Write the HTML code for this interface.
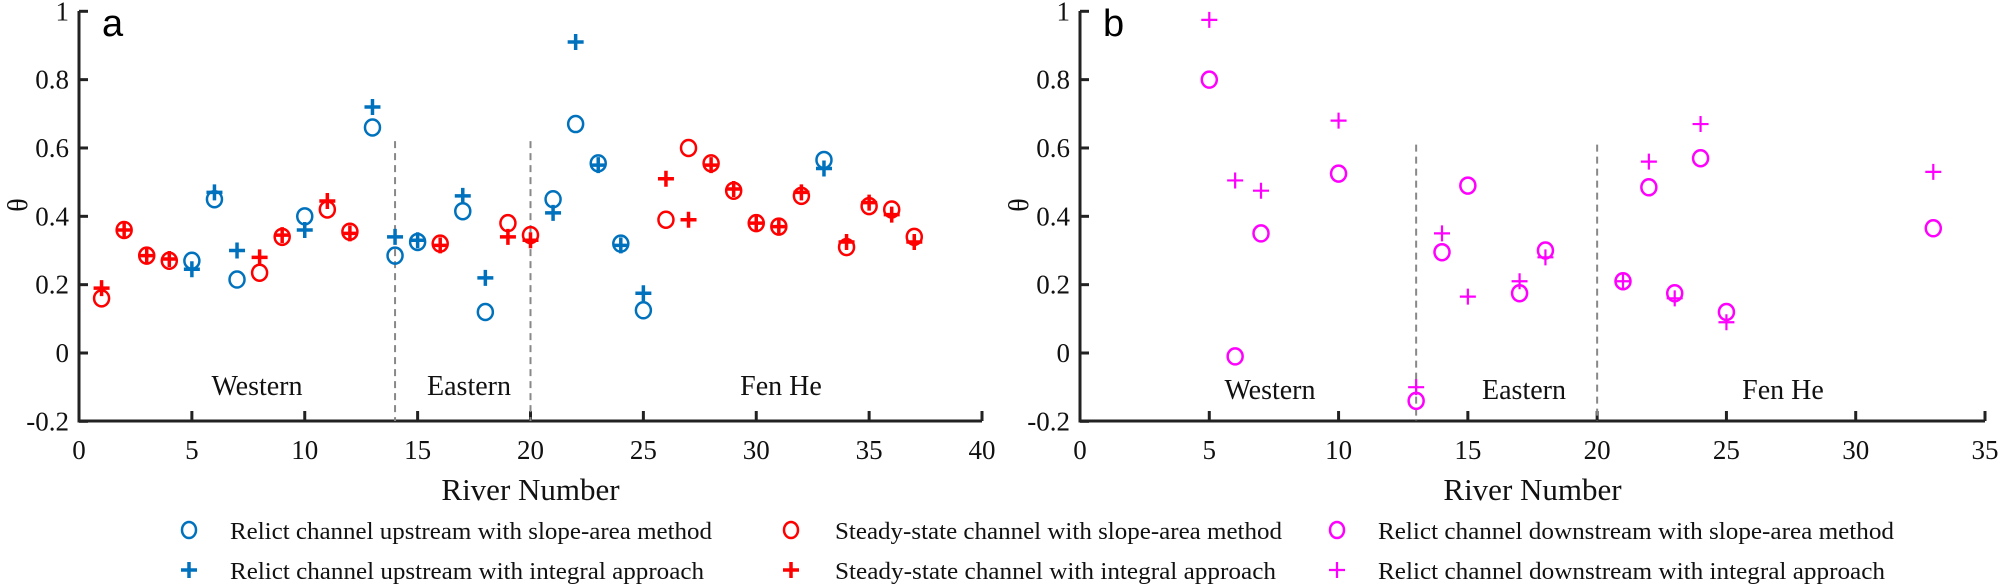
<!DOCTYPE html>
<html><head><meta charset="utf-8"><style>
html,body{margin:0;padding:0;background:#fff;}
svg{display:block;font-family:"Liberation Serif",serif;}
</style></head><body>
<svg id="chart" width="2000" height="587" viewBox="0 0 2000 587" xmlns="http://www.w3.org/2000/svg"></svg>
<script>
const aUpX=[5,6,7,10,13,14,15,17,18,21,22,23,24,25,33];
const aUpCircle=[0.27,0.45,0.215,0.40,0.66,0.285,0.325,0.415,0.12,0.45,0.67,0.555,0.32,0.125,0.565];
const aUpPlus=[0.245,0.47,0.30,0.36,0.72,0.34,0.33,0.46,0.22,0.41,0.91,0.55,0.315,0.175,0.54];
const aSsX=[1,2,3,4,8,9,11,12,16,19,20,26,27,28,29,30,31,32,34,35,36,37];
const aSsCircle=[0.16,0.36,0.285,0.27,0.235,0.34,0.42,0.355,0.32,0.38,0.345,0.39,0.60,0.555,0.475,0.38,0.37,0.46,0.31,0.43,0.42,0.34];
const aSsPlus=[0.19,0.36,0.285,0.275,0.28,0.345,0.445,0.35,0.315,0.34,0.33,0.51,0.39,0.55,0.48,0.38,0.37,0.47,0.325,0.44,0.405,0.325];
const bDnX=[5,6,7,10,13,14,15,17,18,21,22,23,24,25,33];
const bDnCircle=[0.80,-0.01,0.35,0.525,-0.14,0.295,0.49,0.175,0.30,0.21,0.485,0.175,0.57,0.12,0.365];
const bDnPlus=[0.975,0.505,0.475,0.68,-0.10,0.35,0.165,0.21,0.28,0.21,0.56,0.16,0.67,0.09,0.53];
const yTicks=[-0.2,0,0.2,0.4,0.6,0.8,1];
const yTickLabels=["-0.2","0","0.2","0.4","0.6","0.8","1"];
const aXTicks=[0,5,10,15,20,25,30,35,40];
const bXTicks=[0,5,10,15,20,25,30,35];
const aDividers=[14,20];
const bDividers=[13,20];

const NS="http://www.w3.org/2000/svg";
const svg=document.getElementById('chart');
function mk(tag,attrs,parent){const e=document.createElementNS(NS,tag);for(const k in attrs)e.setAttribute(k,attrs[k]);(parent||svg).appendChild(e);return e;}
const yScale=v=>353-v*341.7;
function panel(id,x0,x1,xmax,xticks){
  const g=mk('g',{});
  
  
  const xs=v=>x0+(x1-x0)*v/xmax;
  const ax=mk('line',{x1:x0,y1:11,x2:x0,y2:421,stroke:'#222','stroke-width':3},g);
  
  
  const bx=mk('line',{x1:x0-1.5,y1:421,x2:x1,y2:421,stroke:'#222','stroke-width':3},g);
  
  
  yTicks.forEach((v,i)=>{
    const y=yScale(v);
    mk('line',{x1:x0,y1:y,x2:x0+9,y2:y,stroke:'#222','stroke-width':3},g);
    const t=mk('text',{x:x0-10,y:y+9,'text-anchor':'end','font-size':27,fill:'#111'},g);
    t.textContent=yTickLabels[i];
    
    
  });
  xticks.forEach(v=>{
    const x=xs(v);
    mk('line',{x1:x,y1:421,x2:x,y2:411,stroke:'#222','stroke-width':3},g);
    const t=mk('text',{x:x,y:459,'text-anchor':'middle','font-size':27,fill:'#111'},g);
    t.textContent=String(v);
    
    
  });
  const xl=mk('text',{x:(x0+x1)/2,y:500,'text-anchor':'middle','font-size':31,fill:'#111'},g);
  xl.textContent='River Number';
  
  
  const yl=mk('text',{x:0,y:0,'text-anchor':'middle','font-size':28,fill:'#111',transform:`translate(${x0-52},205) rotate(-90)`},g);
  yl.textContent='θ';
  
  
  const pl=mk('text',{x:x0+23,y:36,'font-size':38,'font-family':'Liberation Sans, sans-serif',fill:'#000'},g);
  pl.textContent=id;
  
  
  return {g,xs};
}
function divider(p,v,top){
  const l=mk('line',{x1:p.xs(v),y1:yScale(top),x2:p.xs(v),y2:421,stroke:'#888','stroke-width':2,'stroke-dasharray':'7,5'},p.g);
  
  
}
function label(p,text,cx,y){
  const t=mk('text',{x:cx,y:y,'text-anchor':'middle','font-size':28,fill:'#111'},p.g);
  t.textContent=text;
  
  
}
function circles(p,xsArr,vals,color,sw,name){
  xsArr.forEach((x,i)=>{
    const c=mk('ellipse',{cx:p.xs(x),cy:yScale(vals[i]),rx:7.5,ry:8,fill:'none',stroke:color,'stroke-width':sw},p.g);
    
    
  });
}
function pluses(p,xsArr,vals,color,sw,s,name){
  xsArr.forEach((x,i)=>{
    const cx=p.xs(x),cy=yScale(vals[i]);
    const d=mk('path',{d:`M${cx-s} ${cy}H${cx+s}M${cx} ${cy-s}V${cy+s}`,stroke:color,'stroke-width':sw,fill:'none'},p.g);
    
    
  });
}
const BLUE='#0072BD',RED='#FF0000',MAG='#FF00FF';
const pa=panel('a',79,982,40,aXTicks);
aDividers.forEach(v=>divider(pa,v,0.62));
label(pa,'Western',257,395);label(pa,'Eastern',469,395);label(pa,'Fen He',781,395);
circles(pa,aUpX,aUpCircle,BLUE,2.5,'upstream-slope-area-point');
pluses(pa,aUpX,aUpPlus,BLUE,3.5,8,'upstream-integral-point');
circles(pa,aSsX,aSsCircle,RED,2.5,'steady-state-slope-area-point');
pluses(pa,aSsX,aSsPlus,RED,3.5,8,'steady-state-integral-point');

const pb=panel('b',1080,1985,35,bXTicks);
bDividers.forEach(v=>divider(pb,v,0.61));
label(pb,'Western',1270,399);label(pb,'Eastern',1524,399);label(pb,'Fen He',1783,399);
circles(pb,bDnX,bDnCircle,MAG,2.5,'downstream-slope-area-point');
pluses(pb,bDnX,bDnPlus,MAG,2.2,8,'downstream-integral-point');

const legend=[
 [189,230,532,'c',BLUE,'Relict channel upstream with slope-area method',482],
 [189,230,572,'p',BLUE,'Relict channel upstream with integral approach',474],
 [791,835,532,'c',RED,'Steady-state channel with slope-area method',447],
 [791,835,572,'p',RED,'Steady-state channel with integral approach',441],
 [1337,1378,532,'c',MAG,'Relict channel downstream with slope-area method',516],
 [1337,1378,572,'p',MAG,'Relict channel downstream with integral approach',507]];
const lg=mk('g',{});


legend.forEach(([mx,tx,y,k,col,txt,w])=>{
  const e=mk('g',{},lg);
  
  
  if(k==='c') mk('ellipse',{cx:mx,cy:y-2,rx:7,ry:8,fill:'none',stroke:col,'stroke-width':2.5},e);
  else mk('path',{d:`M${mx-8} ${y-2}H${mx+8}M${mx} ${y-10}V${y+6}`,stroke:col,'stroke-width':col===MAG?2.2:3.5},e);
  const t=mk('text',{x:tx,y:y+7,'font-size':24,fill:'#111',textLength:w,lengthAdjust:'spacingAndGlyphs'},e);
  t.textContent=txt;
});
</script>
</body></html>
